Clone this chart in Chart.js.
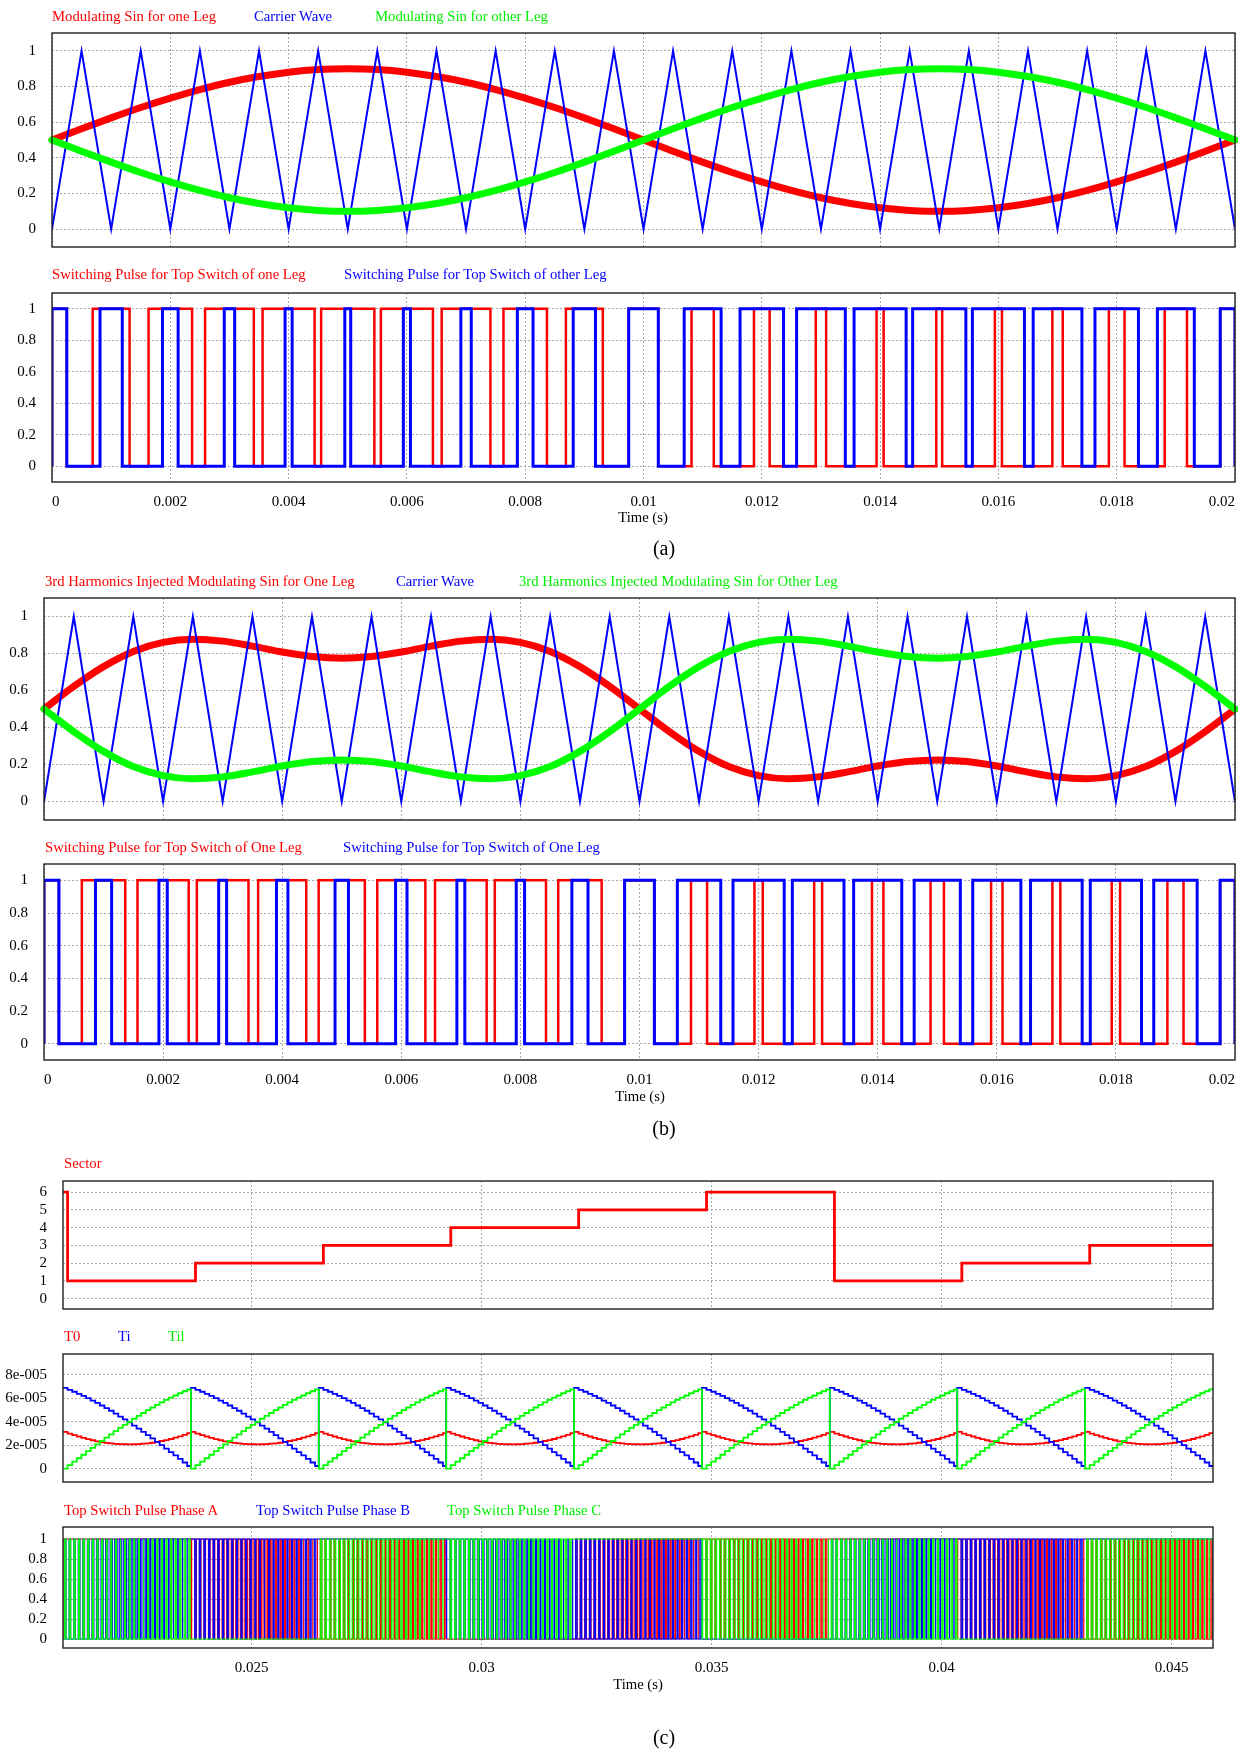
<!DOCTYPE html>
<html>
<head>
<meta charset="utf-8">
<script src="https://cdn.jsdelivr.net/npm/chart.js@4.4.1/dist/chart.umd.min.js"></script>
<style>
  body { margin: 0; background: #fff; width: 1238px; height: 1754px; position: relative; overflow: hidden;
         font-family: "Liberation Serif", "Times New Roman", serif; }
  canvas { position: absolute; left: 0; }
  .txt { position: absolute; white-space: nowrap; font-size: 14.7px; line-height: 18px; transform: translateY(-50%); }
  .mid { transform: translate(-50%, -50%); }
</style>
</head>
<body>
<script>
// === DATA (a) : sinusoidal PWM, one sample every 0.5 ms from 0 to 0.02 s ===
const modStep = 0.0005;
const sinOneLeg = [0.5, 0.563, 0.624, 0.682, 0.735, 0.783, 0.824, 0.856, 0.880, 0.895, 0.9,
  0.895, 0.880, 0.856, 0.824, 0.783, 0.735, 0.682, 0.624, 0.563, 0.5,
  0.437, 0.376, 0.318, 0.265, 0.217, 0.176, 0.144, 0.120, 0.105, 0.1,
  0.105, 0.120, 0.144, 0.176, 0.217, 0.265, 0.318, 0.376, 0.437, 0.5];
const sinOtherLeg = [0.5, 0.437, 0.376, 0.318, 0.265, 0.217, 0.176, 0.144, 0.120, 0.105, 0.1,
  0.105, 0.120, 0.144, 0.176, 0.217, 0.265, 0.318, 0.376, 0.437, 0.5,
  0.563, 0.624, 0.682, 0.735, 0.783, 0.824, 0.856, 0.880, 0.895, 0.9,
  0.895, 0.880, 0.856, 0.824, 0.783, 0.735, 0.682, 0.624, 0.563, 0.5];
const carrier = [0, 1, 0, 1, 0, 1, 0, 1, 0, 1, 0, 1, 0, 1, 0, 1, 0, 1, 0, 1, 0,
  1, 0, 1, 0, 1, 0, 1, 0, 1, 0, 1, 0, 1, 0, 1, 0, 1, 0, 1, 0];

// === DATA (b) : 3rd harmonic injected ===
const harmOneLeg = [0.5, 0.622, 0.729, 0.811, 0.860, 0.877, 0.867, 0.840, 0.808, 0.784, 0.775,
  0.784, 0.808, 0.840, 0.867, 0.877, 0.860, 0.811, 0.729, 0.622, 0.5,
  0.378, 0.271, 0.189, 0.140, 0.123, 0.133, 0.160, 0.192, 0.216, 0.225,
  0.216, 0.192, 0.160, 0.133, 0.123, 0.140, 0.189, 0.271, 0.378, 0.5];
const harmOtherLeg = [0.5, 0.378, 0.271, 0.189, 0.140, 0.123, 0.133, 0.160, 0.192, 0.216, 0.225,
  0.216, 0.192, 0.160, 0.133, 0.123, 0.140, 0.189, 0.271, 0.378, 0.5,
  0.622, 0.729, 0.811, 0.860, 0.877, 0.867, 0.840, 0.808, 0.784, 0.775,
  0.784, 0.808, 0.840, 0.867, 0.877, 0.860, 0.811, 0.729, 0.622, 0.5];

const timeTicksAB = [0, 0.002, 0.004, 0.006, 0.008, 0.01, 0.012, 0.014, 0.016, 0.018, 0.02];
const timeLabelsAB = ["0", "0.002", "0.004", "0.006", "0.008", "0.01", "0.012", "0.014", "0.016", "0.018", "0.02"];
const unitTicks = [0, 0.2, 0.4, 0.6, 0.8, 1];
const unitLabels = ["0", "0.2", "0.4", "0.6", "0.8", "1"];

// === DATA (c) : space vector PWM ===
const sectorTimes = [0.0209, 0.0210, 0.02378, 0.02656, 0.02933, 0.03211, 0.03489, 0.03767, 0.04044, 0.04322];
const sectorValues = [6, 1, 2, 3, 4, 5, 6, 1, 2, 3];
// start of each sector block for the T0 / Ti / Til traces and the sector used there
const blockStarts = [0.0209, 0.02368, 0.02646, 0.02923, 0.03201, 0.03479, 0.03757, 0.04034, 0.04312];
const blockSectors = [1, 2, 3, 4, 5, 6, 1, 2, 3];
const switchPeriod = 1e-4;
// one value per switching period inside a sector, in units of 1e-5 s
const tiProfile = [6.87, 6.71, 6.55, 6.37, 6.19, 6.00, 5.80, 5.60, 5.38, 5.16, 4.93, 4.69, 4.44, 4.19,
  3.94, 3.67, 3.41, 3.13, 2.86, 2.58, 2.29, 2.00, 1.71, 1.42, 1.13, 0.83, 0.53, 0.23];
const tilProfile = [0, 0.30, 0.60, 0.89, 1.19, 1.49, 1.78, 2.07, 2.36, 2.64, 2.92, 3.19, 3.47, 3.73,
  3.99, 4.25, 4.50, 4.74, 4.98, 5.21, 5.43, 5.64, 5.85, 6.05, 6.23, 6.42, 6.59, 6.75];
const t0Profile = [3.13, 2.99, 2.85, 2.74, 2.62, 2.51, 2.42, 2.33, 2.26, 2.20, 2.15, 2.12, 2.09, 2.08,
  2.07, 2.08, 2.09, 2.13, 2.16, 2.21, 2.28, 2.36, 2.44, 2.53, 2.64, 2.75, 2.88, 3.02];
// top switch on-time per sector (1..6) as weights of [Ti, Til, T0]
const phaseA = [[1, 1, 1], [1, 0, 0], [0, 0, 1], [0, 0, 0], [0, 1, 1], [1, 1, 0]];
const phaseB = [[0, 1, 1], [1, 1, 0], [1, 1, 1], [1, 0, 0], [0, 0, 1], [0, 0, 0]];
const phaseC = [[0, 0, 1], [0, 0, 0], [0, 1, 1], [1, 1, 0], [1, 1, 1], [1, 0, 0]];

const rangeC = [0.0209, 0.0459];
const timeTicksC = [0.025, 0.03, 0.035, 0.04, 0.045];
const timeLabelsC = ["0.025", "0.03", "0.035", "0.04", "0.045"];
const sectorTicks = [0, 1, 2, 3, 4, 5, 6];
const sectorLabels = ["0", "1", "2", "3", "4", "5", "6"];
const tTicks = [0, 2e-5, 4e-5, 6e-5, 8e-5];
const tLabels = ["0", "2e-005", "4e-005", "6e-005", "8e-005"];

const RED = "#ff0000", BLUE = "#0000ff", GREEN = "#00ff00";
const FONT = "'Liberation Serif', 'Times New Roman', serif";
Chart.defaults.font.family = FONT;

// === HELPERS ===
function series(values) {
  return values.map((v, i) => ({ x: i * modStep, y: v }));
}

// turn a list of [start, end] high intervals into a 0/1 step trace
function steps(intervals, x0, x1) {
  const merged = [];
  intervals.forEach(([s, e]) => {
    s = Math.max(s, x0); e = Math.min(e, x1);
    if (e <= s) return;
    const last = merged[merged.length - 1];
    if (last && s <= last[1] + 1e-9) last[1] = Math.max(last[1], e);
    else merged.push([s, e]);
  });
  const pts = [{ x: x0, y: 0 }];
  merged.forEach(([s, e]) => pts.push({ x: s, y: 0 }, { x: s, y: 1 }, { x: e, y: 1 }, { x: e, y: 0 }));
  pts.push({ x: x1, y: 0 });
  return pts;
}

// leg pulse: high around each carrier valley, width = modulating level there
function legPulses(mod) {
  const period = 2 * modStep;
  const intervals = [];
  for (let i = 0; i < mod.length; i += 2) {
    const c = i * modStep, w = mod[i] * period;
    intervals.push([c - w / 2, c + w / 2]);
  }
  return steps(intervals, 0, 0.02);
}

function profileTrace(profile) {
  const pts = [];
  blockStarts.forEach((b, k) => {
    const next = k + 1 < blockStarts.length ? blockStarts[k + 1] : rangeC[1];
    profile.forEach((v, j) => {
      const x = b + j * switchPeriod;
      if (x < next) pts.push({ x: x, y: v * 1e-5 });
    });
  });
  pts.push({ x: rangeC[1], y: pts[pts.length - 1].y });
  return pts;
}

function phasePulses(table) {
  const intervals = [];
  blockStarts.forEach((b, k) => {
    const next = k + 1 < blockStarts.length ? blockStarts[k + 1] : rangeC[1];
    const wt = table[blockSectors[k] - 1];
    for (let j = 0; j < tiProfile.length; j++) {
      const s = b + j * switchPeriod;
      if (s >= next) break;
      const w = (wt[0] * tiProfile[j] + wt[1] * tilProfile[j] + wt[2] * t0Profile[j]) * 1e-5;
      if (w >= switchPeriod - 1e-9) intervals.push([s, Math.min(s + switchPeriod, next)]);
      else if (w > 0) {
        const c = s + switchPeriod / 2;
        intervals.push([c - w / 2, c + w / 2]);
      }
    }
  });
  return steps(intervals, rangeC[0], rangeC[1]);
}

function line(data, color, width, order, extra) {
  return Object.assign({ data: data, borderColor: color, borderWidth: width, order: order,
    pointRadius: 0, tension: 0, fill: false }, extra || {});
}

const frame = {
  id: "frame",
  afterDraw(chart) {
    const { ctx, chartArea: a } = chart;
    ctx.save();
    ctx.strokeStyle = "#222";
    ctx.lineWidth = 1.4;
    ctx.strokeRect(a.left, a.top, a.right - a.left, a.bottom - a.top);
    ctx.restore();
  }
};

function panel(cfg) {
  const pad = 12;
  const xH = cfg.xLabels ? 34 : 0;
  const h = (cfg.box.b - cfg.box.t) + pad + (cfg.xLabels ? xH : pad);
  const cv = document.createElement("canvas");
  cv.width = 1238; cv.height = h;
  cv.style.top = (cfg.box.t - pad) + "px";
  cv.style.width = "1238px"; cv.style.height = h + "px";
  document.body.appendChild(cv);
  const gridOpts = { color: "#a8a8a8", lineWidth: 1, drawTicks: false };
  const tickFont = { family: FONT, size: 15 };
  new Chart(cv, {
    type: "line",
    data: { datasets: cfg.datasets },
    options: {
      responsive: false, animation: false, devicePixelRatio: 1, events: [],
      parsing: false, normalized: true,
      layout: { padding: { left: 0, right: 1238 - cfg.box.r, top: pad, bottom: cfg.xLabels ? 0 : pad } },
      plugins: { legend: { display: false }, tooltip: { enabled: false } },
      scales: {
        x: {
          type: "linear", min: cfg.x[0], max: cfg.x[1],
          afterBuildTicks: s => { s.ticks = cfg.xTicks.map(v => ({ value: v })); },
          afterFit: s => { s.height = xH; s.paddingLeft = 0; s.paddingRight = 0; },
          ticks: {
            display: !!cfg.xLabels, autoSkip: false, maxRotation: 0, minRotation: 0,
            align: cfg.xAlign || "center", padding: 11, color: "#000", font: tickFont,
            callback: (v, i) => cfg.xLabels ? cfg.xLabels[i] : ""
          },
          grid: gridOpts,
          border: { display: false, dash: [2, 2] }
        },
        y: {
          type: "linear", min: cfg.y[0], max: cfg.y[1],
          afterBuildTicks: s => { s.ticks = cfg.yTicks.map(v => ({ value: v })); },
          afterFit: s => { s.width = cfg.box.l; s.paddingTop = 0; s.paddingBottom = 0; },
          ticks: { padding: 16, color: "#000", font: tickFont, callback: (v, i) => cfg.yLabels[i] },
          grid: gridOpts,
          border: { display: false, dash: [2, 2] }
        }
      }
    },
    plugins: [frame]
  });
}

function text(str, x, y, color, opts) {
  const d = document.createElement("div");
  d.className = "txt" + (opts && opts.mid ? " mid" : "");
  d.textContent = str;
  d.style.left = x + "px";
  d.style.top = y + "px";
  d.style.color = color;
  if (opts && opts.size) d.style.fontSize = opts.size + "px";
  document.body.appendChild(d);
}

const thick = { cubicInterpolationMode: "monotone", borderCapStyle: "round", clip: 6 };

// === (a) ===
panel({
  box: { l: 52, r: 1235, t: 33, b: 247 }, x: [0, 0.02], y: [-0.1, 1.1],
  xTicks: timeTicksAB, yTicks: unitTicks, yLabels: unitLabels,
  datasets: [
    line(series(sinOtherLeg), GREEN, 7, 0, thick),
    line(series(carrier), BLUE, 2, 1),
    line(series(sinOneLeg), RED, 7, 2, thick)
  ]
});
panel({
  box: { l: 52, r: 1235, t: 293, b: 482 }, x: [0, 0.02], y: [-0.1, 1.1],
  xTicks: timeTicksAB, xLabels: timeLabelsAB, xAlign: "inner", yTicks: unitTicks, yLabels: unitLabels,
  datasets: [
    line(legPulses(sinOtherLeg), BLUE, 3, 0),
    line(legPulses(sinOneLeg), RED, 2.5, 1)
  ]
});
text("Modulating Sin for one Leg", 52, 16, RED);
text("Carrier Wave", 254, 16, BLUE);
text("Modulating Sin for other Leg", 375, 16, "#00ee00");
text("Switching Pulse for Top Switch of one Leg", 52, 274, RED);
text("Switching Pulse for Top Switch of other Leg", 344, 274, BLUE);
text("Time (s)", 643, 517, "#000", { mid: true });
text("(a)", 664, 548, "#000", { mid: true, size: 20 });

// === (b) ===
panel({
  box: { l: 44, r: 1235, t: 598, b: 820 }, x: [0, 0.02], y: [-0.1, 1.1],
  xTicks: timeTicksAB, yTicks: unitTicks, yLabels: unitLabels,
  datasets: [
    line(series(harmOtherLeg), GREEN, 7, 0, thick),
    line(series(carrier), BLUE, 2, 1),
    line(series(harmOneLeg), RED, 7, 2, thick)
  ]
});
panel({
  box: { l: 44, r: 1235, t: 864, b: 1060 }, x: [0, 0.02], y: [-0.1, 1.1],
  xTicks: timeTicksAB, xLabels: timeLabelsAB, xAlign: "inner", yTicks: unitTicks, yLabels: unitLabels,
  datasets: [
    line(legPulses(harmOtherLeg), BLUE, 3, 0),
    line(legPulses(harmOneLeg), RED, 2.5, 1)
  ]
});
text("3rd Harmonics Injected Modulating Sin for One Leg", 45, 581, RED);
text("Carrier Wave", 396, 581, BLUE);
text("3rd Harmonics Injected Modulating Sin for Other Leg", 519, 581, "#00ee00");
text("Switching Pulse for Top Switch of One Leg", 45, 847, RED);
text("Switching Pulse for Top Switch of One Leg", 343, 847, BLUE);
text("Time (s)", 640, 1096, "#000", { mid: true });
text("(b)", 664, 1128, "#000", { mid: true, size: 20 });

// === (c) ===
const sectorPts = sectorTimes.map((t, i) => ({ x: t, y: sectorValues[i] }));
sectorPts.push({ x: rangeC[1], y: sectorValues[sectorValues.length - 1] });
panel({
  box: { l: 63, r: 1213, t: 1181, b: 1309 }, x: rangeC, y: [-0.58, 6.63],
  xTicks: timeTicksC, yTicks: sectorTicks, yLabels: sectorLabels,
  datasets: [line(sectorPts, RED, 2.8, 0, { stepped: "before" })]
});
panel({
  box: { l: 63, r: 1213, t: 1354, b: 1482 }, x: rangeC, y: [-1.13e-5, 9.76e-5],
  xTicks: timeTicksC, yTicks: tTicks, yLabels: tLabels,
  datasets: [
    line(profileTrace(tilProfile), GREEN, 1.8, 0, { stepped: "before" }),
    line(profileTrace(tiProfile), BLUE, 1.8, 1, { stepped: "before" }),
    line(profileTrace(t0Profile), RED, 1.8, 2, { stepped: "before" })
  ]
});
panel({
  box: { l: 63, r: 1213, t: 1527, b: 1648 }, x: rangeC, y: [-0.09, 1.12],
  xTicks: timeTicksC, xLabels: timeLabelsC, yTicks: unitTicks, yLabels: unitLabels,
  datasets: [
    line(phasePulses(phaseC), GREEN, 1.2, 0),
    line(phasePulses(phaseB), BLUE, 1.2, 1),
    line(phasePulses(phaseA), RED, 1.2, 2)
  ]
});
text("Sector", 64, 1163, RED);
text("T0", 64, 1336, RED);
text("Ti", 118, 1336, BLUE);
text("Til", 168, 1336, "#00ee00");
text("Top Switch Pulse Phase A", 64, 1510, RED);
text("Top Switch Pulse Phase B", 256, 1510, BLUE);
text("Top Switch Pulse Phase C", 447, 1510, "#00ee00");
text("Time (s)", 638, 1684, "#000", { mid: true });
text("(c)", 664, 1737, "#000", { mid: true, size: 20 });
</script>
</body>
</html>
